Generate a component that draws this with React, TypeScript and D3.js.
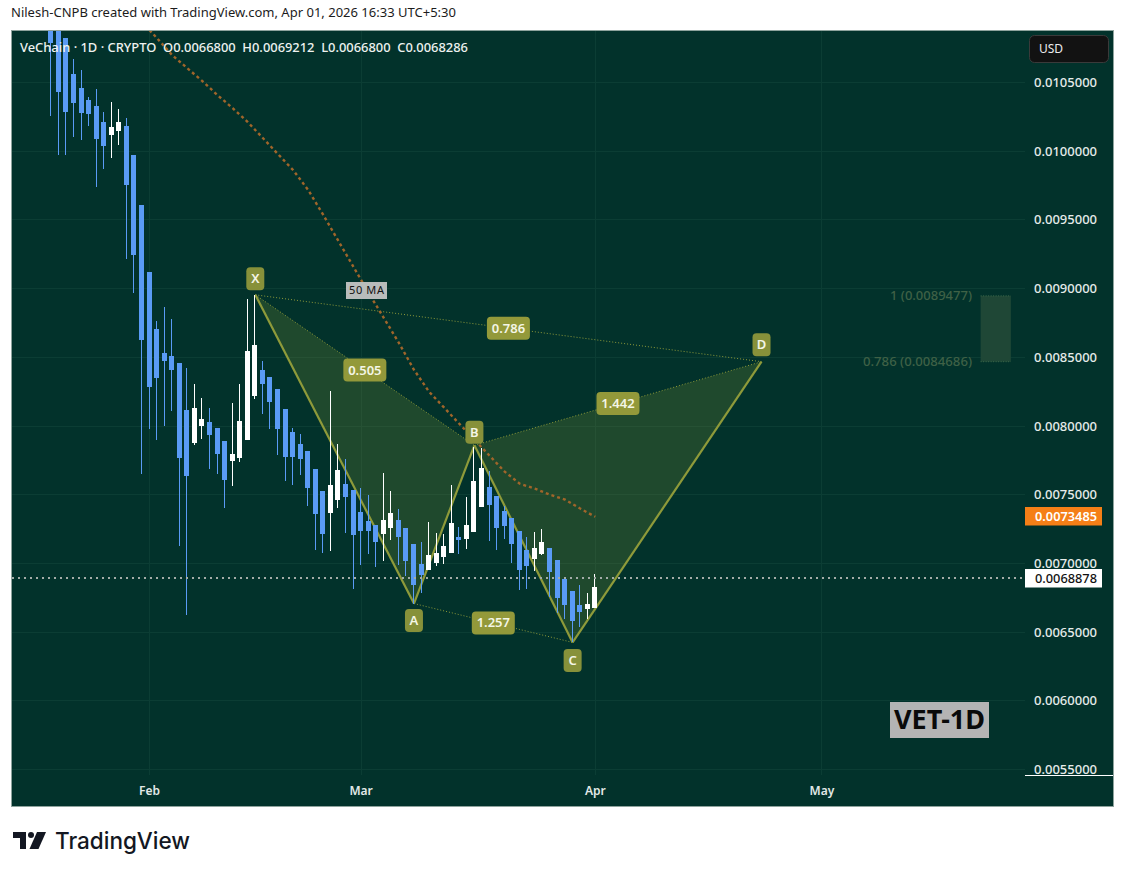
import React from "react";
import * as d3 from "d3";

// prices are in millionths of a USD; index = daily candle, index 72 = Apr 1
const opens = [11026,10917,10822,10561,10459,10372,10328,10212,10118,10147,10183,9972,9609,9122,8708,8533,8512,8461,8119,7879,8003,8032,7988,7894,7749,7770,7901,8221,8410,8359,8272,8126,7959,7872,7821,7690,7530,7371,7465,7581,7538,7378,7312,7283,7218,7262,7320,7262,7145,7000,6956,7007,7044,7080,7196,7182,7233,7414,7560,7494,7385,7334,7240,7102,7036,7073,7116,7029,6891,6797,6695,6666,6680];
const highs = [11062,10953,10822,10670,10590,10394,10452,10285,10357,10306,10241,9972,9609,9122,8766,8868,8780,8461,8424,8308,8206,8134,7988,7894,8170,8308,8926,8955,8475,8359,8272,8126,7988,7945,7821,7690,7530,8257,7872,7763,7538,7552,7501,7283,7661,7530,7400,7262,7145,7160,7305,7225,7218,7574,7269,7487,7850,7843,7676,7494,7421,7334,7240,7196,7233,7254,7116,7029,6891,6797,6847,6789,6921];
const lows = [10256,9972,9972,10103,10081,10183,9740,9870,9950,10045,9216,8969,7654,7981,7901,8003,8112,7124,6622,7865,7908,7690,7654,7407,7567,7741,7901,8199,8090,7981,7792,7603,7574,7647,7421,7102,7080,7094,7407,7225,6818,6993,7073,6978,7022,7174,6993,6906,6709,6789,6956,6985,7000,7080,7073,7109,7233,7414,7167,7102,7182,7007,6804,6818,6949,7065,6753,6637,6593,6426,6535,6593,6680];
const closes = [10788,10430,10285,10350,10277,10270,10088,10038,10176,10212,9754,9246,8628,8286,8352,8475,8410,7770,7639,8134,8054,7937,7799,7610,7799,8039,8548,8591,8308,8177,7981,7778,7778,7763,7552,7363,7218,7574,7683,7487,7211,7240,7240,7160,7320,7371,7196,7015,6847,6920,7065,7080,7131,7298,7174,7283,7603,7698,7429,7262,7276,7145,6956,6985,7116,7160,6935,6746,6695,6579,6644,6709,6829];

const maDays = [13,14,16,18,20,22,24,26,28,30,32,34,36,38,40,42,44,46,48,50,52,54,56,58,60,62,64,66,68,70,72];
const maValues = [10881,10822,10699,10604,10510,10408,10314,10212,10096,9979,9863,9718,9536,9347,9158,8969,8788,8606,8410,8250,8134,8017,7901,7785,7669,7581,7545,7501,7465,7400,7340];

const patternNames = ["X","A","B","C","D"];
const patternDays = [27,48,56,69,94];
const patternPrices = [8955,6709,7860,6426,8468.6];
const patternOffsets = [-16,17,-13,18,-17];
const ratioLabels = ["0.505","0.786","1.442","1.257"];
const ratioPairs = [[0,2],[0,4],[2,4],[1,3]];

const priceTicks = [10500,10000,9500,9000,8500,8000,7500,7000,6500,6000,5500];
const priceTickLabels = ["0.0105000","0.0100000","0.0095000","0.0090000","0.0085000","0.0080000","0.0075000","0.0070000","0.0065000","0.0060000","0.0055000"];
const monthDays = [13,41,72,102];
const monthLabels = ["Feb","Mar","Apr","May"];

const maLastLabel = "0.0073485";
const currentPrice = 6887.8;
const currentLabel = "0.0068878";
const fibTop = 8947.7;
const fibBottom = 8468.6;
const fibDayStart = 123;
const fibDayEnd = 127;

const BG = "#02322b";
const BLUE = "#5a9bf5";
const OLIVE = "#8e9a3a";
const UI = "'Noto Sans', sans-serif";

export default function App() {
  const x = d3.scaleLinear().domain([0, 72]).range([51.3, 595.3]);
  const y = d3.scaleLinear().domain([5500, 10500]).range([769.7, 82.5]);
  const line = d3.line<number>().x((_, i) => x(maDays[i])).y((v) => y(v));
  const pts = patternDays.map((d, i) => [x(d), y(patternPrices[i])] as [number, number]);
  const tri = (a: number, b: number, c: number) => `M${pts[a]}L${pts[b]}L${pts[c]}Z`;
  const seg = (a: number, b: number) => `M${pts[a]}L${pts[b]}`;
  const plotL = 12, plotT = 31, axisL = 1025, axisB = 775;
  const fx = x(fibDayStart), fw = x(fibDayEnd) - x(fibDayStart);

  return (
    <svg width={1125} height={875} viewBox="0 0 1125 875" style={{ position: "absolute", left: 0, top: 0, background: "#fff" }} fontFamily={UI}>
      <defs>
        <clipPath id="plot"><rect x={plotL} y={plotT} width={axisL - plotL} height={axisB - plotT} /></clipPath>
      </defs>
      <text x={11} y={17} fontSize={12.6} fill="#1c1c1c" textLength={445} lengthAdjust="spacingAndGlyphs">Nilesh-CNPB created with TradingView.com, Apr 01, 2026 16:33 UTC+5:30</text>
      <rect x={11.5} y={30.5} width={1102} height={776} fill={BG} stroke="#8ea39d" strokeWidth={1} />

      <g shapeRendering="crispEdges" stroke="#0b3d34" strokeWidth={1}>
        {priceTicks.map((t) => <line key={t} x1={plotL} x2={axisL} y1={Math.floor(y(t)) + 0.5} y2={Math.floor(y(t)) + 0.5} />)}
        {monthDays.map((d) => <line key={d} y1={plotT} y2={axisB} x1={Math.floor(x(d)) + 0.5} x2={Math.floor(x(d)) + 0.5} />)}
      </g>

      <g clipPath="url(#plot)">
        <path d={tri(0, 1, 2)} fill="rgba(130,150,50,0.23)" />
        <path d={tri(2, 3, 4)} fill="rgba(130,150,50,0.23)" />
        <g fill="none" stroke={OLIVE}>
          {[[0,1],[1,2],[2,3],[3,4]].map(([a, b]) => <path key={`${a}${b}`} d={seg(a, b)} strokeWidth={2.2} />)}
          {ratioPairs.map(([a, b]) => <path key={`${a}-${b}`} d={seg(a, b)} strokeWidth={1} strokeDasharray="1 2" />)}
        </g>
        <rect x={fx} y={y(fibTop)} width={fw} height={y(fibBottom) - y(fibTop)} fill="#1f4736" />
        <g stroke="#3e6a4c" strokeDasharray="1 1.5" strokeWidth={1}>
          <line x1={fx} x2={fx + fw} y1={y(fibTop)} y2={y(fibTop)} />
          <line x1={fx} x2={fx + fw} y1={y(fibBottom)} y2={y(fibBottom)} />
        </g>

        <g shapeRendering="crispEdges">
          {opens.map((o, i) => {
            const c = closes[i];
            const up = c >= o;
            const col = up ? "#ffffff" : BLUE;
            const cx = Math.round(x(i));
            const top = Math.round(y(Math.max(o, c)));
            const bot = Math.round(y(Math.min(o, c)));
            return (
              <g key={i} fill={col}>
                <rect x={cx - 1} y={y(highs[i])} width={1} height={y(lows[i]) - y(highs[i])} />
                <rect x={cx - 3} y={top} width={5} height={Math.max(1, bot - top)} />
              </g>
            );
          })}
        </g>

        <path d={line(maValues) ?? ""} fill="none" stroke="#a0652a" strokeWidth={2.4} strokeDasharray="3 3" />
        <line x1={plotL} x2={axisL} y1={Math.round(y(currentPrice)) - 1} y2={Math.round(y(currentPrice)) - 1} stroke="#a4aca8" strokeWidth={2} strokeDasharray="2 4" />
      </g>

      {ratioPairs.map(([a, b], i) => {
        const mx = (pts[a][0] + pts[b][0]) / 2, my = (pts[a][1] + pts[b][1]) / 2;
        return (
          <g key={ratioLabels[i]}>
            <rect x={mx - 21.5} y={my - 11.5} width={43} height={23} rx={4} fill="#93993a" />
            <text x={mx} y={my + 4.5} textAnchor="middle" fontSize={13} fontWeight={600} fill="#f4f6e6">{ratioLabels[i]}</text>
          </g>
        );
      })}
      {patternNames.map((n, i) => (
        <g key={n}>
          <rect x={pts[i][0] - 9} y={pts[i][1] + patternOffsets[i] - 11.5} width={18} height={23} rx={4} fill="#87913a" />
          <text x={pts[i][0]} y={pts[i][1] + patternOffsets[i] + 4.5} textAnchor="middle" fontSize={13} fontWeight={600} fill="#f4f6e6">{n}</text>
        </g>
      ))}

      <rect x={346} y={282} width={41} height={17} fill="#b9bcbb" />
      <text x={349} y={294} fontSize={11} fill="#111" textLength={35} lengthAdjust="spacing">50 MA</text>

      <text x={890} y={300} fontSize={13} fontWeight={500} fill="#3f6146" textLength={82} lengthAdjust="spacingAndGlyphs">1 (0.0089477)</text>
      <text x={863} y={366} fontSize={13} fontWeight={500} fill="#3f6146" textLength={109} lengthAdjust="spacingAndGlyphs">0.786 (0.0084686)</text>

      <text x={20} y={52} fontSize={12.4} fontWeight={500} fill="#eef2f0" textLength={448} lengthAdjust="spacingAndGlyphs" xmlSpace="preserve">VeChain · 1D · CRYPTO  O0.0066800  H0.0069212  L0.0066800  C0.0068286</text>

      <rect x={1029.5} y={35.5} width={79} height={27} rx={5} fill="#121212" stroke="#3a3a3a" />
      <text x={1039} y={53} fontSize={12} fill="#ececec">USD</text>

      {priceTicks.map((t, i) => (
        <text key={t} x={1034} y={y(t) + 4.5} fontSize={12.4} fontWeight={500} fill="#e6ecea" textLength={63} lengthAdjust="spacingAndGlyphs">{priceTickLabels[i]}</text>
      ))}
      <line x1={axisL} x2={1113} y1={775.5} y2={775.5} stroke="#ffffff" strokeWidth={1} shapeRendering="crispEdges" />

      <rect x={1025} y={507} width={77} height={18.5} fill="#f57f17" />
      <text x={1035} y={520.5} fontSize={12.4} fontWeight={600} fill="#fff" textLength={62} lengthAdjust="spacingAndGlyphs">{maLastLabel}</text>
      <rect x={1025} y={569} width={77} height={18.5} fill="#fff" />
      <text x={1035} y={582.5} fontSize={12.4} fontWeight={500} fill="#111" textLength={62} lengthAdjust="spacingAndGlyphs">{currentLabel}</text>

      {monthDays.map((d, i) => (
        <text key={d} x={x(d)} y={795} textAnchor="middle" fontSize={12} fontWeight={600} fill="#e3e9e7">{monthLabels[i]}</text>
      ))}

      <rect x={890} y={702} width={99} height={36} fill="#b4b4b4" />
      <text x={894} y={729} fontSize={26} fontWeight={700} fill="#0a0a0a" textLength={91} lengthAdjust="spacingAndGlyphs">VET-1D</text>

      <g fill="#131722">
        <path d="M13 832H26V849H20V838H13Z" />
        <circle cx={31} cy={835} r={3} />
        <path d="M37 832H46L38.5 849H29.5Z" />
      </g>
      <text x={55} y={849} fontSize={23.5} fontWeight={500} fontFamily="Inter, sans-serif" fill="#131722" textLength={135} lengthAdjust="spacingAndGlyphs">TradingView</text>
    </svg>
  );
}
